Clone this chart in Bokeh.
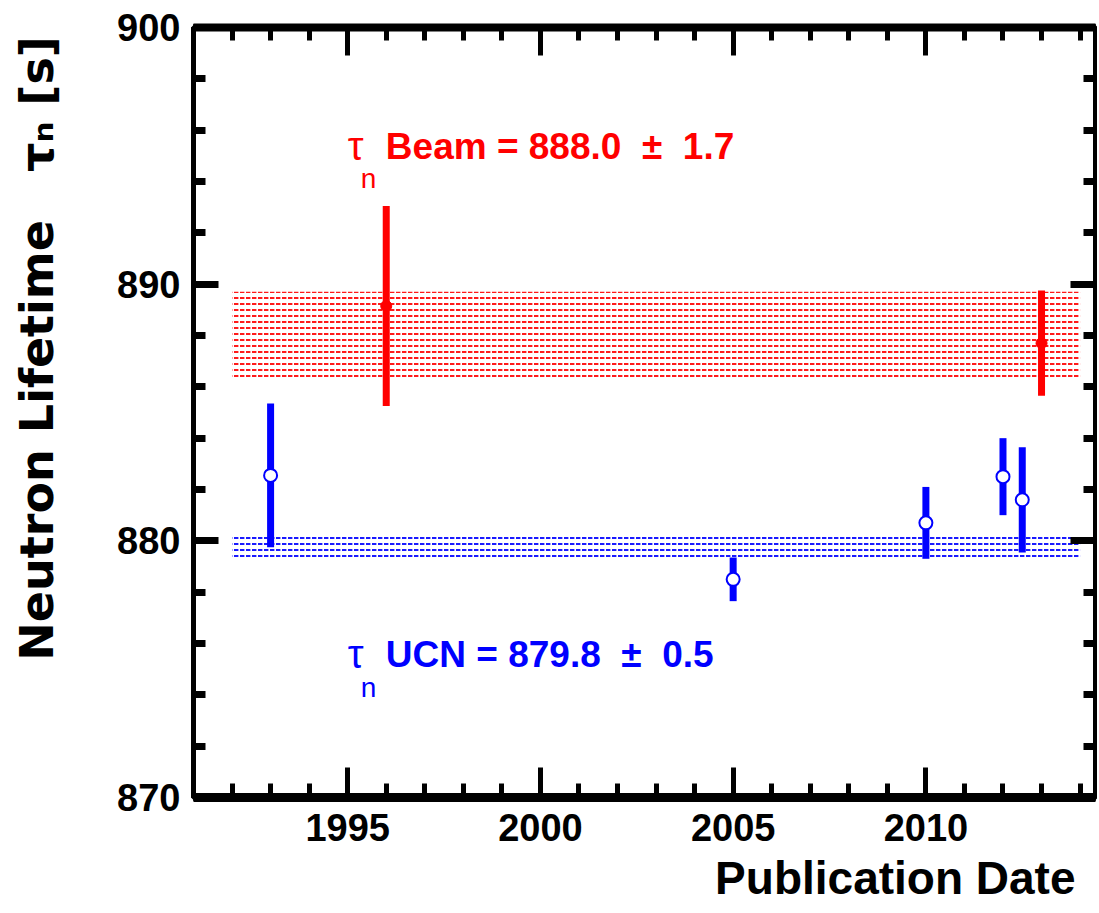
from bokeh.plotting import figure
from bokeh.models import (Range1d, LinearAxis, SingleIntervalTicker, Label, Title,
                          ColumnDataSource, CustomJSTickFormatter)
from bokeh.embed import file_html
from bokeh.resources import INLINE

# ---- data ----
ucn_year = [1993.0, 2005.0, 2010.0, 2012.0, 2012.5]
ucn_tau = [882.55, 878.5, 880.7, 882.5, 881.6]
ucn_err = [2.8, 0.85, 1.4, 1.5, 2.05]

beam_year = [1996.0, 2013.0]
beam_tau = [889.15, 887.7]
beam_err = [3.9, 2.05]

ucn_avg, ucn_avg_err = 879.8, 0.5
beam_avg, beam_avg_err = 888.0, 1.7
band_start, band_end = 1992.0, 2014.0

x_title = "Publication Date"
y_title = "Neutron Lifetime\u00a0\u00a0\u00a0τₙ [s]"

RED = "#ff0000"
BLUE = "#0000ff"
SANS = "Liberation Sans"
SP2 = "\u00a0 "

p = figure(width=1097, height=911,
           x_range=Range1d(1991, 2014.4), y_range=Range1d(870, 900),
           output_backend="svg", toolbar_location=None,
           min_border_left=193, min_border_right=2,
           min_border_top=27, min_border_bottom=114)
p.xgrid.visible = False
p.ygrid.visible = False
p.outline_line_color = "black"
p.outline_line_width = 5
p.background_fill_color = "white"
p.border_fill_color = "white"

xt = SingleIntervalTicker(interval=5, num_minor_ticks=5)
yt = SingleIntervalTicker(interval=10, num_minor_ticks=5)

p.xaxis.ticker = xt
p.yaxis.ticker = yt
top = LinearAxis(ticker=xt)
right = LinearAxis(ticker=yt)
p.add_layout(top, "above")
p.add_layout(right, "right")


def style(ax, lw, tw, major, minor):
    ax.axis_line_color = "black"
    ax.axis_line_width = lw
    ax.major_tick_in = major
    ax.major_tick_out = 0
    ax.minor_tick_in = minor
    ax.minor_tick_out = 0
    ax.major_tick_line_color = "black"
    ax.minor_tick_line_color = "black"
    ax.major_tick_line_width = tw
    ax.minor_tick_line_width = tw
    ax.major_label_text_font = SANS
    ax.major_label_text_font_style = "bold"
    ax.major_label_text_font_size = "38px"
    ax.major_label_text_color = "black"


for ax in p.xaxis:
    style(ax, 9, 5, 30, 14)
    ax.major_label_standoff = 16
for ax in p.yaxis:
    style(ax, 5, 7, 25, 12)
    ax.major_label_standoff = 13
style(top, 8, 5, 28, 13)
style(right, 5, 7, 25, 12)
for ax in (top, right):
    ax.formatter = CustomJSTickFormatter(code="return ''")
    ax.major_label_standoff = 0
    ax.major_label_text_font_size = "1px"

# y axis title (padded so that it sits towards the top, as in the reference)
yax = p.yaxis[0]
yax.axis_label = "\u00a0" * 8 + y_title
yax.axis_label_text_font = "DejaVu Sans"
yax.axis_label_text_font_style = "bold"
yax.axis_label_text_font_size = "46px"
yax.axis_label_text_color = "black"
yax.axis_label_standoff = 50

# x axis title, right aligned under the axis
p.add_layout(Title(text=x_title, align="right", offset=20, standoff=12,
                   text_font=SANS, text_font_style="bold",
                   text_font_size="46px", text_color="black"), "below")

# ---- average bands (hatched) ----
p.quad(left=[band_start], right=[band_end],
       bottom=[beam_avg - beam_avg_err], top=[beam_avg + beam_avg_err],
       fill_alpha=0, line_color=None, hatch_pattern="horizontal_dash",
       hatch_color=RED, hatch_scale=6, hatch_weight=1.8)
p.quad(left=[band_start], right=[band_end],
       bottom=[ucn_avg - ucn_avg_err], top=[ucn_avg + ucn_avg_err],
       fill_alpha=0, line_color=None, hatch_pattern="horizontal_dash",
       hatch_color=BLUE, hatch_scale=6, hatch_weight=1.8)

# ---- measurements ----
ucn = ColumnDataSource(dict(x=ucn_year, y=ucn_tau,
                            lo=[v - e for v, e in zip(ucn_tau, ucn_err)],
                            hi=[v + e for v, e in zip(ucn_tau, ucn_err)]))
beam = ColumnDataSource(dict(x=beam_year, y=beam_tau,
                             lo=[v - e for v, e in zip(beam_tau, beam_err)],
                             hi=[v + e for v, e in zip(beam_tau, beam_err)]))

p.segment(x0="x", y0="lo", x1="x", y1="hi", source=ucn,
          line_color=BLUE, line_width=7, line_cap="butt")
p.scatter(x="x", y="y", source=ucn, marker="circle", size=13,
          fill_color="white", line_color=BLUE, line_width=2)

p.segment(x0="x", y0="lo", x1="x", y1="hi", source=beam,
          line_color=RED, line_width=7, line_cap="butt")
p.scatter(x="x", y="y", source=beam, marker="circle", size=11,
          fill_color=RED, line_color=RED)

# ---- in-plot annotations ----
for avg, err, name, col, ybase, ysub in (
        (beam_avg, beam_avg_err, "Beam", RED, 895.38, 894.1),
        (ucn_avg, ucn_avg_err, "UCN", BLUE, 875.59, 874.3)):
    p.add_layout(Label(x=1995.0, y=ybase, text="τ", text_color=col,
                       text_font=SANS, text_font_size="40px",
                       text_align="left", text_baseline="alphabetic"))
    p.add_layout(Label(x=1995.34, y=ysub, text="n", text_color=col,
                       text_font=SANS, text_font_size="28px",
                       text_align="left", text_baseline="alphabetic"))
    p.add_layout(Label(x=1995.99, y=ybase,
                       text=f"{name} = {avg:.1f}{SP2}\u00b1{SP2}{err:.1f}",
                       text_color=col, text_font=SANS,
                       text_font_style="bold", text_font_size="37px",
                       text_align="left", text_baseline="alphabetic"))

open("out.html", "w").write(file_html(p, INLINE))
